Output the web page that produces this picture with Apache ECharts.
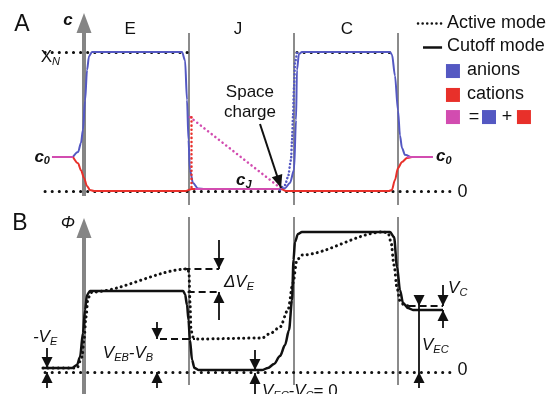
<!DOCTYPE html>
<html><head><meta charset="utf-8">
<script src="https://cdn.jsdelivr.net/npm/echarts@6/dist/echarts.min.js"></script>
<style>html,body{margin:0;padding:0;background:#fff}#c{width:547px;height:394px}</style>
</head><body><div id="c"></div>
<script>
// ================= DATA =================
// x: position in units of layer width (electrode boundaries at 0,1,2,3)
const regionNames = ['E', 'J', 'C'];
const regionCenters = [0.44, 1.47, 2.51];
const boundaries = [1, 2, 3];
// Panel A: normalised concentration c (X_N = 1)
const XN = 1, C0 = 0.245, CJ = 0.015;
const anionCutoff = [[-0.105,0.245],[-0.057,0.28],[-0.029,0.345],[-0.01,0.44],[0.01,0.65],[0.029,0.87],[0.048,0.97],[0.076,1.0],[0.936,1.0],[0.965,0.94],[0.984,0.655],[0.998,0.367],[1.012,0.151],[1.041,0.058],[1.089,0.018],[1.156,0.015],[1.872,0.015],[1.92,0.02],[1.967,0.058],[2.006,0.151],[2.025,0.51],[2.034,0.87],[2.053,0.986],[2.082,1.0],[2.923,1.0],[2.942,0.98],[2.97,0.83],[2.999,0.58],[3.018,0.40],[3.037,0.31],[3.066,0.26],[3.114,0.245]];
const cationCutoff = [[-0.105,0.245],[-0.057,0.2],[-0.029,0.15],[0,0.094],[0.029,0.036],[0.057,0.007],[0.096,0],[0.974,0],[1.03,0.015],[1.88,0.015],[1.93,0],[2.913,0],[2.94,0.007],[2.97,0.079],[2.999,0.165],[3.037,0.209],[3.085,0.237],[3.13,0.245]];
const sumCutoffSegments = [[[-0.306,C0],[-0.105,C0]], [[1.06,CJ],[1.88,CJ]], [[3.085,C0],[3.333,C0]]];
const sumActive = [[1.012,0.532],[1.90,0.007]];
const cationActive = [[1.022,0.53],[1.022,0]];
const anionActive = [[1.872,0.007],[1.92,0.043],[1.948,0.101],[1.977,0.223],[1.987,0.367],[1.996,0.532],[2.006,0.75],[2.016,0.93],[2.035,1.0]];
// Panel B: potential Phi (C-plateau = 1)
const phiCutoff = [[-0.392,0.029],[-0.115,0.029],[-0.067,0.05],[-0.038,0.107],[-0.01,0.279],[0.01,0.443],[0.029,0.55],[0.057,0.579],[0.946,0.579],[0.965,0.557],[0.984,0.479],[0.998,0.371],[1.012,0.229],[1.032,0.086],[1.055,0.029],[1.098,0.014],[1.70,0.014],[1.757,0.029],[1.815,0.057],[1.872,0.114],[1.92,0.193],[1.958,0.3],[1.987,0.514],[2.001,0.8],[2.015,0.929],[2.044,0.986],[2.082,1.0],[2.923,1.0],[2.961,0.964],[2.99,0.75],[3.018,0.586],[3.047,0.493],[3.095,0.457],[3.142,0.443],[3.429,0.443]];
const phiActive = [[-0.392,0.029],[-0.067,0.029],[-0.019,0.107],[0,0.229],[0.019,0.393],[0.038,0.529],[0.076,0.571],[0.993,0.736],[1.003,0.7],[1.012,0.5],[1.022,0.3],[1.041,0.25],[1.089,0.236],[1.70,0.243],[1.786,0.279],[1.872,0.321],[1.948,0.443],[1.996,0.636],[2.034,0.8],[2.082,0.836],[2.856,1.0],[2.904,0.993],[2.932,0.929],[2.961,0.764],[2.99,0.6],[3.018,0.507],[3.057,0.479],[3.1,0.471]];
// potential levels used by annotations
const L = {vE: 0.029, eCut: 0.571, eAct: 0.736, jAct: 0.236, jCut: 0.014, cAct: 0.471, cCut: 0.443};
const dashedB = [[[0.95,L.eAct],[1.29,L.eAct]], [[0.99,L.eCut],[1.29,L.eCut]], [[0.726,L.jAct],[1.06,L.jAct]], [[3.1,L.cAct],[3.429,L.cAct]]];
const arrowsB = [
  {x:1.289, from:0.943, tip:L.eAct}, {x:1.289, from:0.371, tip:L.eCut},
  {x:0.697, from:0.357, tip:L.jAct}, {x:0.697, from:-0.114, tip:0},
  {x:-0.353, from:0.171, tip:L.vE}, {x:-0.353, from:-0.114, tip:0},
  {x:1.633, from:0.157, tip:L.jCut}, {x:1.633, from:-0.157, tip:-0.007},
  {x:3.2, from:0.55, tip:L.cAct}, {x:3.2, from:-0.114, tip:0},
  {x:3.429, from:0.621, tip:L.cAct}, {x:3.429, from:0.314, tip:L.cCut}
];
const plainB = [[[3.2,L.cAct],[3.2,0]]];

// ================= STYLE =================
const FONT = 'Arial, "Liberation Sans", Helvetica, sans-serif';
const INK = '#111111', BLUE = '#5458c2', RED = '#e8302a', PINK = '#d24cb0', GRAY = '#858585', LGRAY = '#777777';
const rich = {
  r: {fontFamily: FONT, fontSize: 17, color: INK, opacity: 1},
  l: {fontFamily: FONT, fontSize: 18, color: INK, opacity: 1},
  i: {fontFamily: FONT, fontSize: 17, fontStyle: 'italic', color: INK},
  ib: {fontFamily: FONT, fontSize: 17, fontStyle: 'italic', fontWeight: 'bold', color: INK},
  s: {fontFamily: FONT, fontSize: 11, fontStyle: 'italic', color: INK, padding: [9,0,0,0]},
  sb: {fontFamily: FONT, fontSize: 11, fontStyle: 'italic', fontWeight: 'bold', color: INK, padding: [9,0,0,0]},
  big: {fontFamily: FONT, fontSize: 23, color: INK}
};
const dotted = (w, gap, color) => ({color, width: w, type: [0.1, gap], cap: 'round', opacity: 1});

function T(x, y, text, anchor) {
  const pos = anchor === 'l' ? 'right' : anchor === 'r' ? 'left' : 'inside';
  return {value: [x, y], label: {show: true, position: pos, distance: 0, formatter: text, rich, opacity: 1, color: INK}};
}
function head(x, y, rot, w, h, color) {
  const r = rot * Math.PI / 180;
  return {value: [x, y], symbol: 'triangle', symbolSize: [w, h], symbolRotate: rot,
    symbolOffset: [Math.sin(r) * h / 2, Math.cos(r) * h / 2], itemStyle: {color, opacity: 1}};
}
function segs(gi, list, style, z) {
  return {type: 'lines', coordinateSystem: 'cartesian2d', xAxisIndex: gi, yAxisIndex: gi, polyline: false,
    symbol: 'none', lineStyle: Object.assign({opacity: 1}, style), data: list.map(c => ({coords: c})),
    silent: true, z: z || 2, clip: false, animation: false};
}
function curve(gi, data, style, z) {
  return {type: 'line', xAxisIndex: gi, yAxisIndex: gi, data, showSymbol: false, symbol: 'none',
    smooth: 0.3, smoothMonotone: 'x', lineStyle: Object.assign({opacity: 1}, style), silent: true, z: z || 3, clip: false, animation: false};
}
function points(gi, data, z) {
  return {type: 'scatter', xAxisIndex: gi, yAxisIndex: gi, data, symbolSize: 0, itemStyle: {opacity: 1},
    silent: true, z: z || 6, clip: false, animation: false};
}

// ================= BUILD =================
const series = [];
// panel A frame
series.push(segs(0, [[[0,-0.036],[0,1.2]]], {color: GRAY, width: 4}, 1));
series.push(segs(0, boundaries.map(b => [[b,-0.1],[b,1.137]]), {color: LGRAY, width: 1.7}, 1));
series.push(points(0, [head(0, 1.281, 0, 15, 20, GRAY)], 1));
series.push(segs(0, [[[-0.372,XN],[0.993,XN]], [[2.034,XN],[2.97,XN]], [[-0.372,0],[3.543,0]]], dotted(3, 7, INK), 2));
// panel A curves
series.push(curve(0, anionCutoff, {color: BLUE, width: 2}, 3));
series.push(curve(0, cationCutoff, {color: RED, width: 2}, 3));
series.push(segs(0, sumCutoffSegments, {color: PINK, width: 2}, 4));
series.push(segs(0, [sumActive], dotted(2.5, 4.5, PINK), 4));
series.push(segs(0, [cationActive], dotted(2.5, 4, RED), 4));
series.push(curve(0, anionActive, dotted(2.5, 3.5, BLUE), 4));
// space charge arrow
series.push(segs(0, [[[1.681,0.482],[1.882,0.022]]], {color: INK, width: 2}, 5));
series.push(points(0, [head(1.882, 0.022, 198, 11, 13, INK)], 5));
// legend (drawn in panel A coordinates)
series.push(segs(0, [[[3.19,1.209],[3.42,1.209]]], dotted(2.5, 4.5, INK), 5));
series.push(segs(0, [[[3.238,1.036],[3.42,1.036]]], {color: INK, width: 2.5}, 5));
series.push({type: 'scatter', xAxisIndex: 0, yAxisIndex: 0, symbol: 'rect', symbolSize: 14, silent: true, animation: false, clip: false, z: 5,
  data: [{value: [3.524,0.863], itemStyle: {color: BLUE, opacity: 1}}, {value: [3.524,0.691], itemStyle: {color: RED, opacity: 1}},
         {value: [3.524,0.532], itemStyle: {color: PINK, opacity: 1}}, {value: [3.868,0.532], itemStyle: {color: BLUE, opacity: 1}},
         {value: [4.202,0.532], itemStyle: {color: RED, opacity: 1}}]});
// panel A text
const textA = [
  T(-0.592, 1.194, '{big|A}'), T(-0.153, 1.23, '{ib|c}'),
  ...regionNames.map((n, k) => T(regionCenters[k], 1.165, '{r|' + n + '}')),
  T(-0.229, 0.964, '{r|X}{s|N}', 'r'),
  T(-0.325, C0, '{ib|c}{sb|0}', 'r'), T(3.362, 0.252, '{ib|c}{sb|0}', 'l'),
  T(1.452, 0.079, '{ib|c}{sb|J}', 'l'),
  T(1.585, 0.712, '{r|Space}'), T(1.585, 0.568, '{r|charge}'),
  T(3.614, -0.007, '{l|0}'),
  T(3.467, 1.209, '{l|Active mode}', 'l'), T(3.467, 1.043, '{l|Cutoff mode}', 'l'),
  T(3.658, 0.87, '{l|anions}', 'l'), T(3.658, 0.698, '{l|cations}', 'l'),
  T(3.725, 0.532, '{l|=}'), T(4.04, 0.532, '{l|+}')
];
series.push(points(0, textA, 6));

// panel B frame
series.push(segs(1, [[[0,-0.157],[0,1.0]]], {color: GRAY, width: 4}, 1));
series.push(segs(1, boundaries.map(b => [[b,-0.093],[b,1.107]]), {color: LGRAY, width: 1.7}, 1));
series.push(points(1, [head(0, 1.1, 0, 15, 20, GRAY)], 1));
series.push(segs(1, [[[-0.372,0],[3.543,0]]], dotted(3, 7, INK), 2));
// panel B curves
series.push(curve(1, phiCutoff, {color: INK, width: 2.5}, 3));
series.push(curve(1, phiActive, dotted(3, 5, INK), 3));
// annotations
series.push(segs(1, dashedB, {color: INK, width: 2, type: [7, 4]}, 4));
series.push(segs(1, arrowsB.map(a => [[a.x,a.from],[a.x,a.tip]]).concat(plainB), {color: INK, width: 1.8}, 4));
series.push(points(1, arrowsB.map(a => head(a.x, a.tip, a.tip < a.from ? 180 : 0, 11, 11, INK)), 5));
const textB = [
  T(-0.611, 1.057, '{big|B}'), T(-0.153, 1.064, '{i|Φ}'),
  T(1.48, 0.643, '{i|ΔV}{s|E}'),
  T(-0.372, 0.25, '{i|-V}{s|E}'),
  T(0.42, 0.136, '{i|V}{s|EB}{i|-V}{s|B}'),
  T(1.70, -0.136, '{i|V}{s|EC}{i|-V}{s|C}{r|= 0}', 'l'),
  T(3.228, 0.193, '{i|V}{s|EC}', 'l'),
  T(3.477, 0.6, '{i|V}{s|C}', 'l'),
  T(3.614, 0.014, '{l|0}')
];
series.push(points(1, textB, 6));

const chart = echarts.init(document.getElementById('c'), null, {renderer: 'canvas'});
chart.setOption({
  animation: false,
  backgroundColor: '#fff',
  grid: [{left: 0, top: 0, width: 547, height: 210}, {left: 0, top: 200, width: 547, height: 194}],
  xAxis: [{gridIndex: 0, type: 'value', min: -0.8023, max: 4.4222, show: false},
          {gridIndex: 1, type: 'value', min: -0.8023, max: 4.4222, show: false}],
  yAxis: [{gridIndex: 0, type: 'value', min: -0.1367, max: 1.3741, show: false},
          {gridIndex: 1, type: 'value', min: -0.1571, max: 1.2286, show: false}],
  series
});
</script></body></html>
